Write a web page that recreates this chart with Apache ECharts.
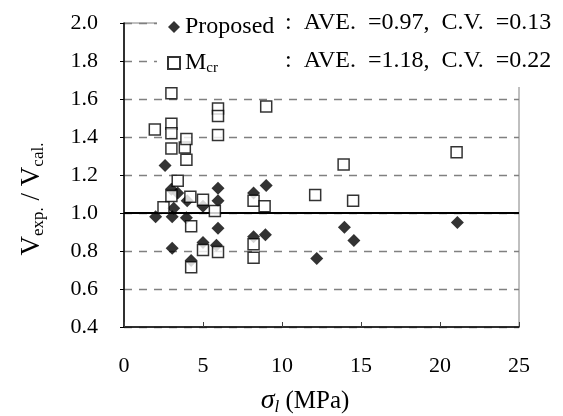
<!DOCTYPE html>
<html>
<head>
<meta charset="utf-8">
<script src="https://cdn.jsdelivr.net/npm/echarts@6/dist/echarts.min.js"></script>
<style>
  html, body { margin: 0; padding: 0; background: #fff; }
  #grafica { width: 563px; height: 416px; }
</style>
</head>
<body>
<div id="grafica"></div>
<script>
// valores [sigma_l, Vexp/Vcal]
let propuesto = [
  [2.0, 0.98], [2.6, 1.25], [3.0, 1.125], [3.05, 0.98], [3.05, 0.815],
  [3.15, 1.025], [3.4, 1.105], [4.0, 1.065], [3.95, 0.975], [4.25, 0.75],
  [5.0, 1.035], [5.0, 0.845], [5.95, 1.13], [5.95, 1.065], [5.95, 0.92],
  [5.85, 0.83], [8.2, 1.105], [8.2, 0.875], [9.0, 1.145], [8.95, 0.885],
  [12.2, 0.76], [13.95, 0.925], [14.55, 0.855], [21.1, 0.95]
];
let mcr = [
  [1.95, 1.44], [2.5, 1.03], [3.0, 1.63], [3.0, 1.47], [3.0, 1.42],
  [3.0, 1.34], [3.0, 1.09], [3.4, 1.17], [3.85, 1.345], [3.95, 1.39],
  [3.95, 1.28], [4.2, 1.085], [4.25, 0.93], [4.25, 0.715], [5.0, 1.07],
  [5.0, 0.805], [5.75, 1.01], [5.95, 1.55], [5.95, 1.51], [5.95, 1.41],
  [5.95, 0.795], [8.2, 1.065], [8.2, 0.835], [8.2, 0.765], [8.9, 1.035],
  [9.0, 1.56], [12.1, 1.095], [13.9, 1.255], [14.5, 1.065], [21.05, 1.32]
];
let nombres = ['Proposed', 'Mcr'];
let promedios = ['0.97', '1.18'];
let coefVar = ['0.13', '0.22'];

let fuente = '"Liberation Serif", "Times New Roman", serif';

let chartDom = document.getElementById('grafica');
let myChart = echarts.init(chartDom, null, { renderer: 'canvas' });

function textoEstadistica(i) {
  return ':  AVE.  =' + promedios[i] + ',  C.V.  =' + coefVar[i];
}

let option = {
  animation: false,
  backgroundColor: '#fff',
  textStyle: { fontFamily: fuente, color: '#000' },
  grid: {
    left: 124, right: 44, top: 23, bottom: 89,
    show: true, borderColor: '#808080', borderWidth: 1
  },
  xAxis: {
    type: 'value', min: 0, max: 25, interval: 5,
    axisLine: { show: true, onZero: false, lineStyle: { color: '#000', width: 1.5 } },
    axisTick: { show: true, inside: true, length: 5, lineStyle: { color: '#404040' } },
    axisLabel: { fontFamily: fuente, fontSize: 22, color: '#000', margin: 28 },
    splitLine: { show: false }
  },
  yAxis: {
    type: 'value', min: 0.4, max: 2.0, interval: 0.2,
    axisLine: { show: true, onZero: false, lineStyle: { color: '#000', width: 1.5 } },
    axisTick: { show: true, inside: false, length: 4, lineStyle: { color: '#000' } },
    axisLabel: {
      fontFamily: fuente, fontSize: 22, color: '#000', margin: 26,
      formatter: v => v.toFixed(1)
    },
    splitLine: { show: true, lineStyle: { color: '#808080', width: 1.3, type: [8, 7] } }
  },
  legend: {
    orient: 'vertical', left: 162, top: 10, z: 20,
    itemWidth: 12, itemHeight: 12, itemGap: 12,
    data: [{ name: 'Proposed', icon: 'diamond' }, { name: 'Mcr', icon: 'rect' }],
    formatter: function (name) {
      if (name === 'Mcr') return '{a|M}{b|cr}';
      return '{a|' + name + '}';
    },
    textStyle: {
      fontFamily: fuente, color: '#000',
      rich: {
        a: { fontFamily: fuente, fontSize: 24, lineHeight: 26, color: '#000' },
        b: { fontFamily: fuente, fontSize: 15, lineHeight: 26, color: '#000', verticalAlign: 'bottom', padding: [10, 0, 0, 0] }
      }
    }
  },
  graphic: [
    { type: 'rect', z: 10, shape: { x: 157, y: 0, width: 406, height: 87 }, style: { fill: '#fff' } },
    { type: 'text', z: 21, x: 285, y: 23, style: { text: textoEstadistica(0), font: '24px ' + fuente, fill: '#000', verticalAlign: 'middle' } },
    { type: 'text', z: 21, x: 285, y: 61, style: { text: textoEstadistica(1), font: '24px ' + fuente, fill: '#000', verticalAlign: 'middle' } },
    {
      type: 'text', z: 21, x: 32, y: 199, rotation: Math.PI / 2,
      style: {
        text: '{a|V}{b|exp.}{a| / V}{b|cal.}',
        align: 'center', verticalAlign: 'middle',
        rich: {
          a: { fontFamily: fuente, fontSize: 27, lineHeight: 30, fill: '#000' },
          b: { fontFamily: fuente, fontSize: 17, lineHeight: 30, fill: '#000', verticalAlign: 'bottom', padding: [11, 0, 0, 0] }
        }
      }
    },
    {
      type: 'text', z: 21, x: 305, y: 401,
      style: {
        text: '{s|σ}{l|l}{a| (MPa)}',
        align: 'center', verticalAlign: 'middle',
        rich: {
          s: { fontFamily: fuente, fontSize: 28, fontStyle: 'italic', lineHeight: 30, fill: '#000' },
          l: { fontFamily: fuente, fontSize: 17, fontStyle: 'italic', lineHeight: 30, fill: '#000', verticalAlign: 'bottom', padding: [11, 0, 0, 0] },
          a: { fontFamily: fuente, fontSize: 25, lineHeight: 30, fill: '#000' }
        }
      }
    }
  ],
  series: [
    {
      name: 'Proposed', type: 'scatter', z: 12,
      symbol: 'diamond', symbolSize: 13,
      itemStyle: { color: '#000' },
      data: propuesto,
      markLine: {
        silent: true, symbol: 'none', label: { show: false },
        lineStyle: { color: '#000', width: 2, type: 'solid' },
        data: [{ yAxis: 1.0 }]
      }
    },
    {
      name: 'Mcr', type: 'scatter', z: 13,
      symbol: 'rect', symbolSize: 11,
      itemStyle: { color: '#fff', borderColor: '#000', borderWidth: 1.5 },
      data: mcr
    }
  ]
};

myChart.setOption(option);
</script>
</body>
</html>
